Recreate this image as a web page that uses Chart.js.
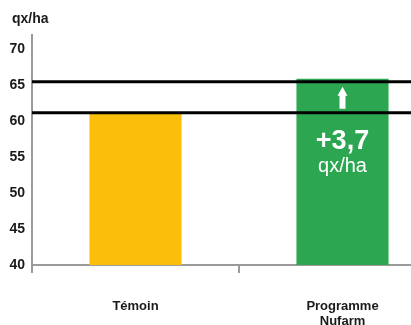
<!DOCTYPE html>
<html>
<head>
<meta charset="utf-8">
<script src="https://cdn.jsdelivr.net/npm/chart.js@4/dist/chart.umd.min.js"></script>
<style>
    html, body { margin: 0; padding: 0; background: #fff; overflow: hidden; }
    #doThi { position: absolute; left: 0; top: 0; }
</style>
</head>
<body>
<canvas id="doThi" width="446" height="355"></canvas>
<script>
// du lieu doc tu hinh
var categories = ['Témoin', ['Programme', 'Nufarm']];
var rendement = [61.0, 65.9];
var barColors = ['#FBBF0B', '#2DA651'];
var refLines = [61.2, 65.5];
var yTicks = [40, 45, 50, 55, 60, 65, 70];
var yMin = 40, yMax = 72;
var gainLabel = '+3,7';
var unitLabel = 'qx/ha';

var fontFam = '"Liberation Sans", Arial, sans-serif';

// ve don vi truc y, 2 duong ngang, mui ten va chu trong cot xanh
var gainPlugin = {
    id: 'gainPlugin',
    afterDraw: function (chart) {
        var ctx = chart.ctx;
        ctx.save();
        ctx.fillStyle = '#1a1a1a';
        ctx.font = 'bold 14px ' + fontFam;
        ctx.textAlign = 'left';
        ctx.textBaseline = 'middle';
        ctx.fillText(unitLabel, 12, 19);
        ctx.restore();
    },
    afterDatasetsDraw: function (chart) {
        var ctx = chart.ctx;
        var y = chart.scales.y;
        var area = chart.chartArea;
        var yLow = y.getPixelForValue(refLines[0]);
        var yHigh = y.getPixelForValue(refLines[1]);
        ctx.save();
        ctx.strokeStyle = '#000';
        ctx.lineWidth = 3;
        [yLow, yHigh].forEach(function (py) {
            ctx.beginPath();
            ctx.moveTo(area.left, py);
            ctx.lineTo(area.right, py);
            ctx.stroke();
        });
        var bar = chart.getDatasetMeta(0).data[1];
        var cx = bar.x;
        // mui ten
        var top = yHigh + 5, bottom = yLow - 4;
        ctx.fillStyle = '#fff';
        ctx.beginPath();
        ctx.moveTo(cx, top);
        ctx.lineTo(cx + 5, top + 9);
        ctx.lineTo(cx + 3, top + 9);
        ctx.lineTo(cx + 3, bottom);
        ctx.lineTo(cx - 3, bottom);
        ctx.lineTo(cx - 3, top + 9);
        ctx.lineTo(cx - 5, top + 9);
        ctx.closePath();
        ctx.fill();
        ctx.textAlign = 'center';
        ctx.textBaseline = 'middle';
        ctx.font = 'bold 27px ' + fontFam;
        ctx.fillText(gainLabel, cx, yLow + 29);
        ctx.font = '20px ' + fontFam;
        ctx.fillText(unitLabel, cx, yLow + 54);
        ctx.restore();
    }
};

var ctx = document.getElementById('doThi').getContext('2d');
var chart = new Chart(ctx, {
    type: 'bar',
    data: {
        labels: categories,
        datasets: [{
            data: rendement,
            backgroundColor: barColors,
            borderWidth: 0,
            barPercentage: 0.445,
            categoryPercentage: 1
        }]
    },
    options: {
        responsive: false,
        animation: false,
        layout: { padding: { left: 0, right: 0, top: 35, bottom: 0 } },
        plugins: {
            legend: { display: false },
            tooltip: { enabled: false },
            title: { display: false }
        },
        scales: {
            x: {
                offset: true,
                grid: {
                    display: true,
                    drawOnChartArea: false,
                    drawTicks: true,
                    tickLength: 8,
                    color: '#9a9a9a',
                    lineWidth: 2
                },
                border: { display: true, color: '#9a9a9a', width: 2 },
                ticks: {
                    color: '#1a1a1a',
                    padding: 26,
                    maxRotation: 0,
                    font: { family: fontFam, size: 13, weight: 'bold', lineHeight: 1.15 }
                }
            },
            y: {
                min: yMin,
                max: yMax,
                afterBuildTicks: function (scale) {
                    scale.ticks = yTicks.map(function (v) { return { value: v }; });
                },
                afterFit: function (scale) {
                    scale.width = 32;
                },
                grid: { display: true, drawOnChartArea: false, drawTicks: false },
                border: { display: true, color: '#9a9a9a', width: 2 },
                ticks: {
                    color: '#1a1a1a',
                    padding: 7,
                    font: { family: fontFam, size: 14, weight: 'bold' }
                }
            }
        }
    },
    plugins: [gainPlugin]
});
</script>
</body>
</html>
